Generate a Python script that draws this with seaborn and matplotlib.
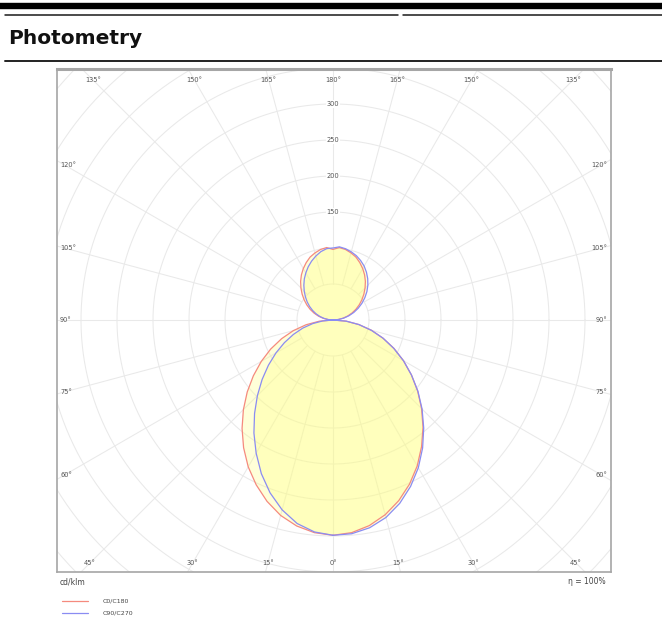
import numpy as np
import pandas as pd
import matplotlib
matplotlib.use("Agg")
import matplotlib.pyplot as plt
from matplotlib.lines import Line2D
import seaborn as sns

# ---------------- data (cd/klm) ----------------
gamma = list(range(0, 181, 5))  # 0..180 deg

c0 = [299, 296.5, 290, 280, 267, 251.5, 234, 214.5, 194.5, 174, 153.5, 133, 113, 93.5, 74, 55.5, 36.5, 18.5, 0,
      7, 14, 21, 28, 35, 42, 49, 56, 63, 70, 76.5, 82.5, 88, 93, 96.5, 99.5, 101, 98]
c180 = [299, 296.5, 290.5, 281, 268, 252.5, 235.5, 216.5, 196.5, 176, 155.5, 135, 115, 95.5, 76, 57, 38, 19, 0,
        7, 14, 21, 28, 35, 42, 49, 56, 63, 70, 76.5, 82.5, 88, 93, 96.5, 99.5, 101, 98]
c90 = [299, 298, 293, 284, 271, 255, 237, 217, 196, 175, 154, 133, 113, 93, 74, 55, 36.5, 18.3, 0,
       7.5, 15.2, 23, 30.8, 38.6, 46.4, 54, 61.5, 68.5, 75, 81, 86.5, 91, 95, 98, 100.5, 102, 100]
c270 = [299, 295.5, 287, 273, 255.5, 235.5, 213.5, 191.5, 169.5, 148.5, 128.5, 109.5, 91.5, 74.5, 58.5, 43.5, 28.5, 14.2, 0,
        6.2, 12.5, 18.8, 25, 31.2, 37.5, 43.8, 50, 56.5, 63, 69.5, 75.5, 81.5, 87, 92, 96.5, 99.5, 100]

series_names = ["C0/C180", "C90/C270"]
series_colors = ["#f58a7e", "#8a8cf2"]
ring_values = [150, 200, 250, 300]
angle_labels_top = [135, 150, 165, 180]
angle_labels_side = [60, 75, 90, 105, 120]
angle_labels_bottom = [0, 15, 30, 45]

# ---------------- build outline table ----------------
rows = []
pairs = [(series_names[0], c0, c180), (series_names[1], c90, c270)]
for name, right, left in pairs:
    k = 0
    for g, r in zip(gamma, right):
        a = np.radians(g)
        rows.append(dict(series=name, k=k, x=r * np.sin(a), y=-r * np.cos(a)))
        k += 1
    for g, r in zip(gamma[::-1], left[::-1]):
        a = np.radians(g)
        rows.append(dict(series=name, k=k, x=-r * np.sin(a), y=-r * np.cos(a)))
        k += 1
df = pd.DataFrame(rows)

# ---------------- figure ----------------
sns.set_style("white")
plt.rcParams["font.family"] = ["DejaVu Sans"]

W, H = 662, 621
fig = plt.figure(figsize=(W / 100, H / 100), dpi=100)

def fx(px):
    return px / W

def fy(py):
    return 1 - py / H

# plot frame: x 57..611, y 69..572 ; center at (333, 320) ; 0.72 px per cd
L, R, T, B = 57, 611, 69, 572
cx, cy, s = 333, 320, 0.72
ax = fig.add_axes([fx(L), fy(B), (R - L) / W, (B - T) / H])
ax.set_xlim((L - cx) / s, (R - cx) / s)
ax.set_ylim((cy - B) / s, (cy - T) / s)
ax.set_xticks([])
ax.set_yticks([])

grid_c = "#e9e9e9"
# rings
t = np.linspace(0, 2 * np.pi, 400)
for rr in range(50, 651, 50):
    ax.plot(rr * np.cos(t), rr * np.sin(t), color=grid_c, lw=0.75, zorder=0)
# spokes
for ang in range(0, 360, 15):
    a = np.radians(ang)
    ax.plot([50 * np.sin(a), 800 * np.sin(a)], [-50 * np.cos(a), -800 * np.cos(a)],
            color=grid_c, lw=0.75, zorder=0)

# fills
for name in series_names:
    sub = df[df.series == name]
    ax.fill(sub.x, sub.y, color="#ffff80", alpha=0.3, lw=0, zorder=1)

# outlines via seaborn
sns.lineplot(data=df, x="x", y="y", hue="series", units="series", sort=False, estimator=None,
             palette=dict(zip(series_names, series_colors)), linewidth=0.9,
             legend=False, ax=ax, zorder=3)
ax.set_xlabel("")
ax.set_ylabel("")

lab_c = "#555555"
fs = 4.8
# ring labels on 180 spoke
for v in ring_values:
    ax.text(0, v, str(v), ha="center", va="center", fontsize=fs, color=lab_c, zorder=5,
            bbox=dict(boxstyle="square,pad=0.15", fc="white", ec="none"))

# angle labels
ytop = (cy - 80) / s
for g in angle_labels_top:
    a = np.radians(180 - g)
    xx = ytop * np.tan(a)
    for sgn in ([1] if g == 180 else [-1, 1]):
        ax.text(sgn * xx, ytop, f"{g}°", ha="center", va="center", fontsize=fs, color=lab_c, zorder=5)
ybot = (cy - 563) / s
for g in angle_labels_bottom:
    xx = -ybot * np.tan(np.radians(g))
    for sgn in ([1] if g == 0 else [-1, 1]):
        ax.text(sgn * xx, ybot, f"{g}°", ha="center", va="center", fontsize=fs, color=lab_c, zorder=5)
xside = 372
for g in angle_labels_side:
    yy = -xside / np.tan(np.radians(g))
    ax.text((60 - cx) / s, yy, f"{g}°", ha="left", va="center", fontsize=fs, color=lab_c, zorder=5)
    ax.text((607 - cx) / s, yy, f"{g}°", ha="right", va="center", fontsize=fs, color=lab_c, zorder=5)

for side in ["left", "bottom", "right"]:
    ax.spines[side].set_color("#a6a6a6")
    ax.spines[side].set_linewidth(1.2)
ax.spines["top"].set_color("#a6a6a6")
ax.spines["top"].set_linewidth(2.2)

# ---------------- header ----------------
fig.add_artist(Line2D([fx(0), fx(662)], [fy(6), fy(6)], color="black", lw=4.6))
fig.add_artist(Line2D([fx(5), fx(398)], [fy(14.5), fy(14.5)], color="#1a1a1a", lw=1.1))
fig.add_artist(Line2D([fx(403), fx(662)], [fy(14.5), fy(14.5)], color="#1a1a1a", lw=1.1))
fig.text(fx(8), fy(38), "Photometry", fontsize=14.5, fontweight="bold", color="#111111",
         ha="left", va="center")
fig.add_artist(Line2D([fx(5), fx(662)], [fy(61), fy(61)], color="#222222", lw=1.4))

# ---------------- footer ----------------
fig.text(fx(60), fy(582), "cd/klm", fontsize=5.5, color="#444444", ha="left", va="center")
fig.text(fx(606), fy(582), "η = 100%", fontsize=5.5, color="#444444", ha="right", va="center")
for i, (name, col) in enumerate(zip(series_names, series_colors)):
    yy = 601 + 12 * i
    fig.add_artist(Line2D([fx(62), fx(88)], [fy(yy), fy(yy)], color=col, lw=0.9))
    fig.text(fx(103), fy(yy), name, fontsize=4.5, color="#444444", ha="left", va="center")

fig.savefig("out.png", dpi=100)
